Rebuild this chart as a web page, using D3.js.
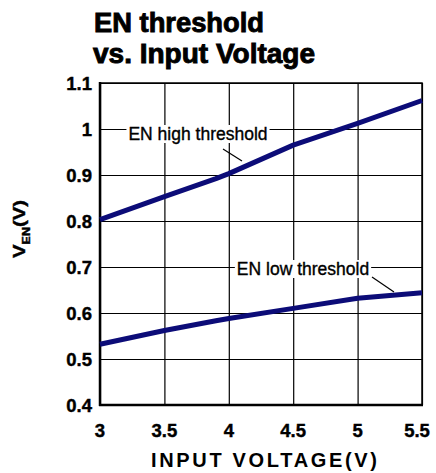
<!DOCTYPE html>
<html>
<head>
<meta charset="utf-8">
<script src="https://cdn.jsdelivr.net/npm/d3@7"></script>
<style>
  body { margin: 0; background: #fff; }
  text { font-family: "Liberation Sans", Arial, sans-serif; }
</style>
</head>
<body>
<script>
// values
const vin = [3, 3.5, 3.9, 4, 4.5, 5, 5.5];
const highThreshold = [0.803, 0.853, 0.892, 0.903, 0.965, 1.012, 1.062];
const lowThreshold = [0.532, 0.562, 0.583, 0.588, 0.610, 0.632, 0.644];
const xTicks = [3, 3.5, 4, 4.5, 5, 5.5];
const yTicks = [0.4, 0.5, 0.6, 0.7, 0.8, 0.9, 1, 1.1];

const svg = d3.select("body")
              .append("svg")
              .attr("width", 436)
              .attr("height", 473);

const x = d3.scaleLinear().domain([3, 5.5]).range([100, 422]);
const y = d3.scaleLinear().domain([0.4, 1.1]).range([405, 83]);

// grid
svg.append("g")
   .attr("transform", "translate(0,405)")
   .call(d3.axisBottom(x).tickValues(xTicks).tickSize(-322).tickFormat(""))
   .call(g => g.select(".domain").remove())
   .call(g => g.selectAll("line").attr("stroke", "#000").attr("stroke-width", 1.2));

svg.append("g")
   .attr("transform", "translate(100,0)")
   .call(d3.axisLeft(y).tickValues(yTicks).tickSize(-322).tickFormat(""))
   .call(g => g.select(".domain").remove())
   .call(g => g.selectAll("line").attr("stroke", "#000").attr("stroke-width", 1.2));

// frame
svg.append("rect")
   .attr("x", 100).attr("y", 83)
   .attr("width", 322).attr("height", 322)
   .attr("fill", "none")
   .attr("stroke", "#000")
   .attr("stroke-width", 1.5);
svg.append("line")
   .attr("x1", 100).attr("x2", 100).attr("y1", 82).attr("y2", 406)
   .attr("stroke", "#000").attr("stroke-width", 2.5);
svg.append("line")
   .attr("x1", 99).attr("x2", 423).attr("y1", 405).attr("y2", 405)
   .attr("stroke", "#000").attr("stroke-width", 2.5);

// tick labels
svg.selectAll(".xlab")
   .data(xTicks)
   .enter().append("text")
   .attr("x", d => d === 5.5 ? x(d) - 5 : x(d))
   .attr("y", 437)
   .attr("text-anchor", "middle")
   .attr("font-size", 18.5)
   .attr("font-weight", "bold")
   .attr("stroke", "#000")
   .attr("stroke-width", 0.4)
   .text(d => d);

svg.selectAll(".ylab")
   .data(yTicks)
   .enter().append("text")
   .attr("x", 92)
   .attr("y", d => y(d) + 6.5)
   .attr("text-anchor", "end")
   .attr("font-size", 18.5)
   .attr("font-weight", "bold")
   .attr("stroke", "#000")
   .attr("stroke-width", 0.4)
   .text(d => d);

// curves
const line = d3.line()
               .x((d, i) => x(vin[i]))
               .y(d => y(d));

[highThreshold, lowThreshold].forEach(s => {
  svg.append("path")
     .attr("d", line(s))
     .attr("fill", "none")
     .attr("stroke", "#0c0c78")
     .attr("stroke-width", 5)
     .attr("stroke-linejoin", "round");
});

// curve labels with leader lines
const labels = [
  {t: "EN high threshold", cx: 198, cy: 134, x1: 223, y1: 149, x2: 242, y2: 161},
  {t: "EN low threshold", cx: 303, cy: 269, x1: 372, y1: 277, x2: 394, y2: 292}
];
labels.forEach(l => {
  const bg = svg.append("rect").attr("fill", "#fff");
  const t = svg.append("text")
     .attr("x", l.cx)
     .attr("y", l.cy + 6)
     .attr("text-anchor", "middle")
     .attr("font-size", 17.5)
     .attr("stroke", "#000")
     .attr("stroke-width", 0.35)
     .text(l.t);
  const b = t.node().getBBox();
  bg.attr("x", b.x - 2).attr("y", b.y + 1)
    .attr("width", b.width + 4).attr("height", b.height - 2);
  svg.append("line")
     .attr("x1", l.x1).attr("y1", l.y1)
     .attr("x2", l.x2).attr("y2", l.y2)
     .attr("stroke", "#000").attr("stroke-width", 1.2);
});

// titles
svg.append("text")
   .attr("x", 94).attr("y", 32)
   .attr("font-size", 27)
   .attr("font-weight", "bold")
   .attr("stroke", "#000")
   .attr("stroke-width", 0.9)
   .attr("textLength", 170)
   .attr("lengthAdjust", "spacingAndGlyphs")
   .text("EN threshold");
svg.append("text")
   .attr("x", 93).attr("y", 63)
   .attr("font-size", 27)
   .attr("font-weight", "bold")
   .attr("stroke", "#000")
   .attr("stroke-width", 0.9)
   .attr("textLength", 222)
   .attr("lengthAdjust", "spacingAndGlyphs")
   .text("vs. Input Voltage");

svg.append("text")
   .attr("x", 151).attr("y", 467)
   .attr("font-size", 20)
   .attr("font-weight", "bold")
   .attr("textLength", 226)
   .attr("lengthAdjust", "spacing")
   .text("INPUT VOLTAGE(V)");

const yt = svg.append("text")
   .attr("transform", "translate(25,229) rotate(-90)")
   .attr("text-anchor", "middle")
   .attr("font-size", 17)
   .attr("font-weight", "bold")
   .attr("stroke", "#000")
   .attr("stroke-width", 0.4)
   .attr("textLength", 58)
   .attr("lengthAdjust", "spacingAndGlyphs");
yt.append("tspan").text("V");
yt.append("tspan").attr("font-size", 10.5).attr("dy", 5).text("EN");
yt.append("tspan").attr("dy", -5).text("(V)");
</script>
</body>
</html>
